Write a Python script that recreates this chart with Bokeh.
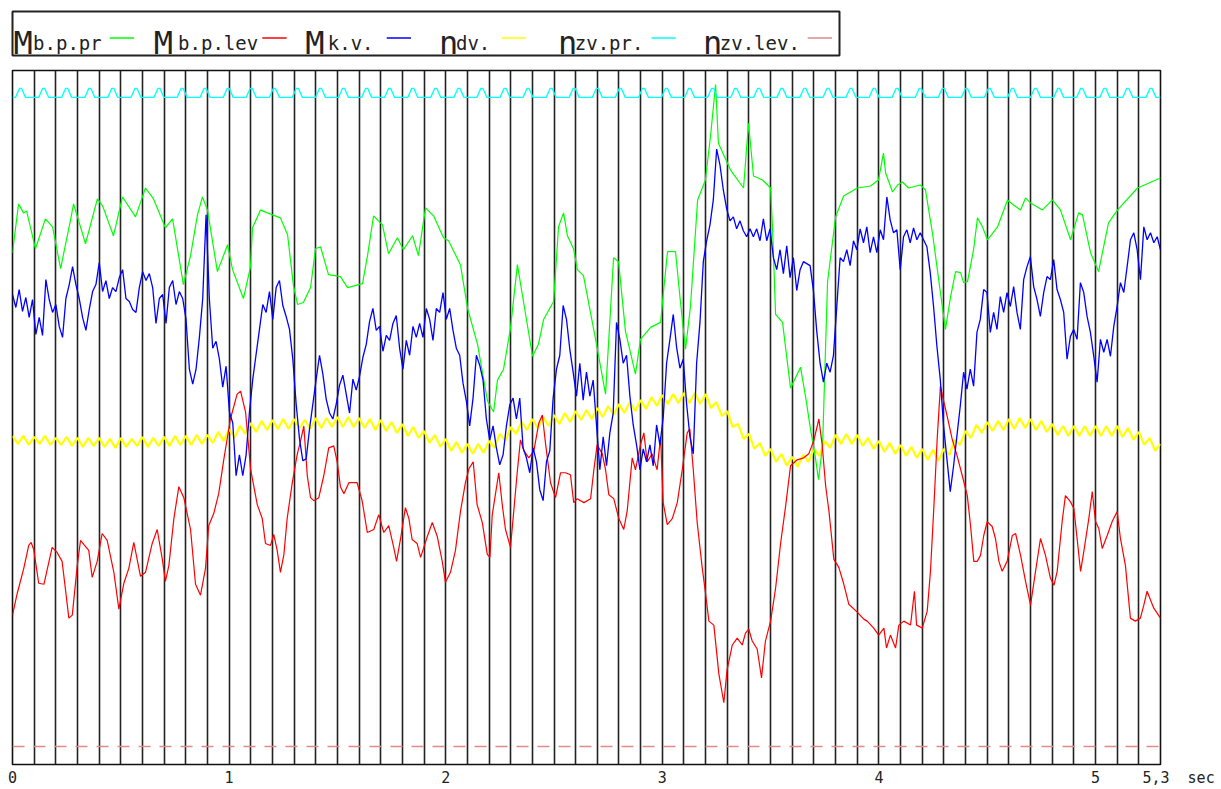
import numpy as np
from bokeh.plotting import figure
from bokeh.models import Range1d, FixedTicker
from bokeh.layouts import column
from bokeh.embed import file_html
from bokeh.resources import INLINE
from bokeh.core.properties import value

# ---------------- data (time in s, values in arbitrary plot units) ----------------
# M b.p.pr (green)
green_t = [0.000,0.028,0.051,0.065,0.106,0.152,0.185,0.222,0.268,0.282,0.337,0.392,0.416,0.466,0.508,0.568,0.614,0.651,0.706,0.739,
           0.789,0.822,0.854,0.877,0.900,0.946,0.993,1.016,1.066,1.099,1.108,1.145,1.177,1.237,1.270,1.297,1.316,1.343,1.376,1.399,
           1.422,1.459,1.514,1.547,1.616,1.639,1.667,1.708,1.736,1.777,1.805,1.847,1.874,1.907,1.944,1.990,2.013,2.068,2.101,2.147,
           2.193,2.221,2.239,2.267,2.299,2.331,2.359,2.401,2.428,2.452,2.498,2.521,2.544,2.562,2.590,2.608,2.636,2.692,2.738,2.775,
           2.798,2.830,2.876,2.899,2.946,2.992,3.006,3.024,3.061,3.084,3.107,3.130,3.163,3.199,3.223,3.246,3.259,3.292,3.315,3.375,
           3.398,3.421,3.463,3.500,3.509,3.523,3.555,3.592,3.638,3.661,3.684,3.707,3.721,3.740,3.763,3.800,3.837,3.901,3.961,3.998,
           4.021,4.031,4.063,4.086,4.109,4.137,4.192,4.215,4.247,4.284,4.307,4.331,4.354,4.377,4.391,4.409,4.437,4.455,4.478,4.501,
           4.548,4.594,4.621,4.654,4.677,4.700,4.755,4.801,4.838,4.885,4.922,4.940,4.977,5.014,5.060,5.102,5.194,5.300]
green_v = [514,563,554,556,518,548,540,498,547,563,523,568,561,531,570,550,579,568,539,548,
           482,511,552,570,557,495,522,497,468,500,539,557,554,549,532,481,462,464,479,518,
           520,492,490,479,483,511,551,542,513,529,517,531,511,559,551,529,526,502,458,422,
           365,354,386,397,438,502,465,410,422,447,465,540,554,531,518,497,491,427,372,509,
           505,435,392,427,439,444,476,515,515,464,417,460,567,587,632,683,624,608,597,579,
           644,591,587,579,538,452,444,378,399,370,337,308,286,321,485,550,571,579,581,587,
           614,594,575,582,585,579,582,577,534,474,437,470,495,494,484,485,517,549,540,527,
           540,567,562,557,569,564,557,567,557,527,554,552,514,495,544,557,579,589]

# M b.p.lev (red)
red_t = [0.000,0.022,0.052,0.075,0.086,0.098,0.121,0.145,0.183,0.206,0.229,0.245,0.260,0.276,0.299,0.314,0.329,0.352,0.368,0.391,
         0.414,0.437,0.468,0.491,0.514,0.537,0.560,0.591,0.614,0.645,0.668,0.691,0.706,0.722,0.745,0.768,0.791,0.822,0.845,0.868,
         0.891,0.906,0.929,0.952,0.976,1.006,1.037,1.053,1.076,1.099,1.130,1.153,1.168,1.191,1.206,1.222,1.237,1.253,1.268,1.291,
         1.314,1.330,
         1.345,1.361,1.376,1.391,1.414,1.437,1.460,1.483,1.499,1.514,1.530,1.553,1.591,1.614,1.638,1.668,1.691,1.714,1.737,1.760,
         1.773,1.791,1.814,1.830,1.845,1.868,1.884,1.899,1.915,1.938,1.961,1.984,1.999,2.022,2.045,2.068,2.091,2.107,2.127,2.145,
         2.169,2.192,2.204,2.215,2.230,2.245,2.261,2.276,2.299,2.314,2.330,2.345,2.361,2.384,2.407,2.430,2.446,2.461,2.484,2.507,
         2.530,2.553,2.576,
         2.591,2.607,2.638,2.669,2.684,2.699,2.723,2.738,2.753,2.776,2.799,2.822,2.838,2.861,2.876,2.899,2.915,2.930,2.953,2.976,
         2.992,3.004,3.023,3.046,3.069,3.092,3.115,3.127,3.143,3.161,3.184,3.199,3.215,3.238,3.261,3.284,3.299,3.323,3.346,3.369,
         3.384,3.399,3.415,3.438,3.458,3.476,3.500,3.523,3.546,3.569,3.592,3.623,3.653,3.676,3.699,3.723,3.738,3.754,3.769,3.792,
         3.815,3.838,3.861,3.900,3.930,
         3.946,3.976,3.999,4.023,4.035,4.053,4.077,4.092,4.115,4.146,4.164,4.174,4.200,4.223,4.238,4.254,4.269,4.284,4.300,4.315,
         4.338,4.361,4.385,4.408,4.423,4.438,4.454,4.469,4.484,4.500,4.523,4.538,4.554,4.569,4.592,4.616,4.631,4.654,4.677,4.700,
         4.723,4.746,4.769,4.792,4.808,4.823,4.846,4.861,4.884,4.900,4.915,4.931,4.946,4.969,4.985,5.000,5.015,5.031,5.054,5.077,
         5.100,5.115,5.138,5.161,5.184,5.207,5.223,5.238,5.269,5.300]
red_v = [150,172,197,220,223,216,182,181,218,213,204,175,147,150,200,225,221,215,188,204,
         232,225,193,156,182,197,223,189,193,222,236,207,184,200,247,279,268,236,181,170,
         197,240,252,272,307,347,372,375,354,297,261,247,222,220,231,215,193,211,247,282,
         311,325,
         340,290,268,265,268,290,318,320,304,279,272,283,283,265,233,236,251,233,240,218,
         204,226,258,247,226,222,208,218,229,243,229,204,183,193,215,254,283,297,304,261,
         243,211,208,251,272,293,261,236,218,254,293,326,315,308,315,343,351,322,283,268,
         293,293,291,
         263,267,263,267,296,321,312,296,271,267,247,236,255,308,296,321,333,304,312,296,
         329,263,241,247,263,296,333,337,296,243,198,173,144,140,91,62,95,120,127,120,
         132,136,124,116,87,124,144,177,222,259,300,306,308,312,325,347,321,280,255,206,
         198,181,161,153,146,
         144,137,130,137,117,130,117,140,144,140,174,140,137,154,194,260,327,380,364,350,
         327,310,290,270,240,204,204,210,230,244,239,227,204,194,204,230,232,210,184,160,
         194,227,210,187,180,194,244,270,264,257,227,194,214,247,274,244,237,217,230,244,
         254,227,200,147,144,147,160,174,157,147]

# M k.v. (blue) - equally spaced samples over 0 .. 5.3 s
blue_v = [472,459,477,455,469,449,467,432,449,431, 487,467,454,462,440,429,468,482,500,482,
          468,449,436,457,475,482,504,475,486,468, 479,475,489,497,468,465,457,454,479,495,
          486,493,479,443,468,472,443,479,486,462, 475,468,447,397,382,397,429,468,552,467,
          418,425,407,379,400,354,343,290,311,290, 311,354,387,412,437,462,454,475,447,479,
          486,461,450,437,407,362,327,305,307,337, 362,387,411,392,367,353,347,362,381,391,
          372,353,387,376,390,409,422,445,458,436, 440,415,431,426,443,451,418,397,426,411,
          440,429,443,429,458,447,426,458,454,474, 447,458,436,418,411,383,365,340,368,411,
          401,386,347,326,340,318,301,311,340,361, 368,347,368,318,308,293,318,304,276,265,
          304,315,368,397,411,461,447,417,394,370, 403,366,394,370,386,341,296,329,300,333,
          353,444,427,403,411,370,341,321,296,317, 304,321,300,341,321,349,403,427,452,419,
          398,407,362,329,312,403,444,505,526,542, 567,618,602,577,558,546,550,538,546,536,
          530,538,530,538,526,548,526,538,509,497, 517,493,521,489,509,476,497,505,503,501,
          476,435,403,384,403,394,411,460,509,505, 517,501,526,517,538,524,540,514,530,514,
          537,527,570,547,534,537,497,530,537,524, 539,527,534,527,520,494,460,420,387,340,
          307,274,300,330,360,394,377,397,380,434, 447,477,474,434,454,437,470,454,474,460,
          480,454,437,487,500,510,480,467,450,474, 490,487,507,477,467,454,407,430,437,427,
          484,474,450,434,410,384,427,414,427,410, 440,460,484,474,500,527,534,517,487,540,
          527,534,524,530,517]

# n dv. (yellow) - equally spaced samples over 0 .. 5.3 s
yellow_v = [330,322,330,321,329,322,330,321,328,321, 329,320,328,319,328,320,328,319,327,318,
            328,319,327,320,329,319,328,320,329,320, 330,321,330,321,331,322,331,323,334,325,
            337,328,340,332,343,334,345,336,346,337, 347,337,347,338,346,337,348,338,348,339,
            349,339,349,339,348,338,347,336,346,335, 344,333,342,330,339,328,335,323,331,319,
            327,315,324,313,322,312,322,313,325,318, 332,325,339,332,344,336,347,338,349,340,
            351,342,353,344,355,346,356,347,358,349, 360,351,362,353,364,355,366,357,369,360,
            371,362,372,363,373,363,373,362,372,358, 364,350,355,339,342,327,332,317,323,310,
            317,304,312,300,309,299,311,304,317,310, 325,318,331,322,332,322,331,320,328,317,
            325,314,323,312,321,310,319,308,317,306, 316,305,317,311,326,321,335,328,341,333,
            344,335,345,336,347,337,348,338,347,336, 345,334,342,331,340,330,340,330,340,330,
            340,330,340,330,340,329,338,326,334,321, 328,315,322]

# n zv.pr. (cyan) - pulse peaks (s) and its low/high levels
cyan_peak_t = [0.037,0.144,0.250,0.357,0.463,0.570,0.676,0.783,0.889,0.996,1.102,1.209,1.315,1.422,1.528,1.635,1.741,
               1.848,1.954,2.061,2.167,2.274,2.380,2.487,2.593,2.700,2.806,2.913,3.019,3.126,3.232,3.339,3.445,3.552,
               3.658,3.765,3.871,3.978,4.084,4.191,4.297,4.404,4.510,4.617,4.723,4.830,4.936,5.043,5.149,5.256]
cyan_low = 670
cyan_high = 679

# n zv.lev. (dashed)
nzv_lev_t = [0.0, 5.3]
nzv_lev_v = [18, 18]

x_ticks = [0, 1, 2, 3, 4, 5, 5.3]
x_unit = "sec"
NB = "\u00a0"
x_tick_labels = {5.3: NB * 4 + "5,3" + NB * 2 + x_unit}
legend_main = ["M", "M", "M", "n", "n", "n"]
legend_sub = ["b.p.pr", "b.p.lev", "k.v.", "dv.", "zv.pr.", "zv.lev."]
colors = ["#00ff00", "#ff0000", "#0000ff", "#ffff00", "#00ffff", "#e08a8a"]

# ---------------- derived geometry ----------------
blue_t = np.linspace(0, 5.3, len(blue_v))
yellow_t = np.linspace(0, 5.3, len(yellow_v))
half_w, top_w = 0.023, 0.005
cyan_t, cyan_v = [0.0], [cyan_low]
for pk in cyan_peak_t:
    cyan_t += [pk - half_w, pk - top_w, pk + top_w, pk + half_w]
    cyan_v += [cyan_low, cyan_high, cyan_high, cyan_low]
cyan_t.append(5.3)
cyan_v.append(cyan_low)

MONO = "DejaVu Sans Mono"

# ---------------- legend strip ----------------
lg = figure(width=900, height=60, output_backend="svg", toolbar_location=None,
            x_range=Range1d(0, 884), y_range=Range1d(0, 44),
            x_axis_location=None, y_axis_location=None,
            min_border_left=12, min_border_right=4, min_border_top=11, min_border_bottom=5)
lg.grid.visible = False
lg.outline_line_color = "#222222"
lg.outline_line_width = 2
big_x = [1, 151, 313, 456, 583, 738]
sub_x = [22, 177, 337, 474, 601, 756]
smp_x = [104, 267, 400, 523, 683, 850]
lg.text(x=big_x, y=[13] * 6, text=legend_main, text_font=value(MONO), text_font_size="32px",
        text_color="#222222", text_baseline="alphabetic")
lg.text(x=sub_x, y=[13] * 6, text=legend_sub, text_font=value(MONO), text_font_size="19px",
        text_color="#222222", text_baseline="alphabetic")
lg.segment(x0=smp_x, y0=[17.5] * 6, x1=[s + 26 for s in smp_x], y1=[17.5] * 6,
           line_color=colors, line_width=1.5)

# ---------------- main chart ----------------
p = figure(width=1221, height=729, output_backend="svg", toolbar_location=None,
           x_range=Range1d(0, 5.3), y_range=Range1d(0, 697),
           min_border_left=12, min_border_right=61, min_border_top=10, min_border_bottom=22)
p.yaxis.visible = False
p.ygrid.visible = False
p.outline_line_color = "#111111"
p.outline_line_width = 1.6
p.xgrid.ticker = FixedTicker(ticks=[round(i * 0.1, 1) for i in range(54)])
p.xgrid.grid_line_color = "#222222"
p.xgrid.grid_line_width = 1.6
p.xgrid.grid_line_alpha = 1.0
p.xaxis.ticker = FixedTicker(ticks=x_ticks)
p.xaxis.major_label_overrides = x_tick_labels
p.xaxis.axis_line_color = None
p.xaxis.major_tick_line_color = None
p.xaxis.minor_tick_line_color = None
p.xaxis.major_tick_out = 0
p.xaxis.major_tick_in = 0
p.xaxis.major_label_standoff = 4
p.xaxis.major_label_text_font = MONO
p.xaxis.major_label_text_font_size = "15px"
p.xaxis.major_label_text_color = "#222222"

p.line(yellow_t, yellow_v, line_color=colors[3], line_width=2.2)
p.line(green_t, green_v, line_color=colors[0], line_width=1.2)
p.line(red_t, red_v, line_color=colors[1], line_width=1.2)
p.line(blue_t, blue_v, line_color=colors[2], line_width=1.3)
p.line(cyan_t, cyan_v, line_color=colors[4], line_width=1.3)
p.line(nzv_lev_t, nzv_lev_v, line_color=colors[5], line_width=1.5, line_dash="12 9")

layout = column(lg, p)
open("out.html", "w").write(file_html(layout, INLINE))
